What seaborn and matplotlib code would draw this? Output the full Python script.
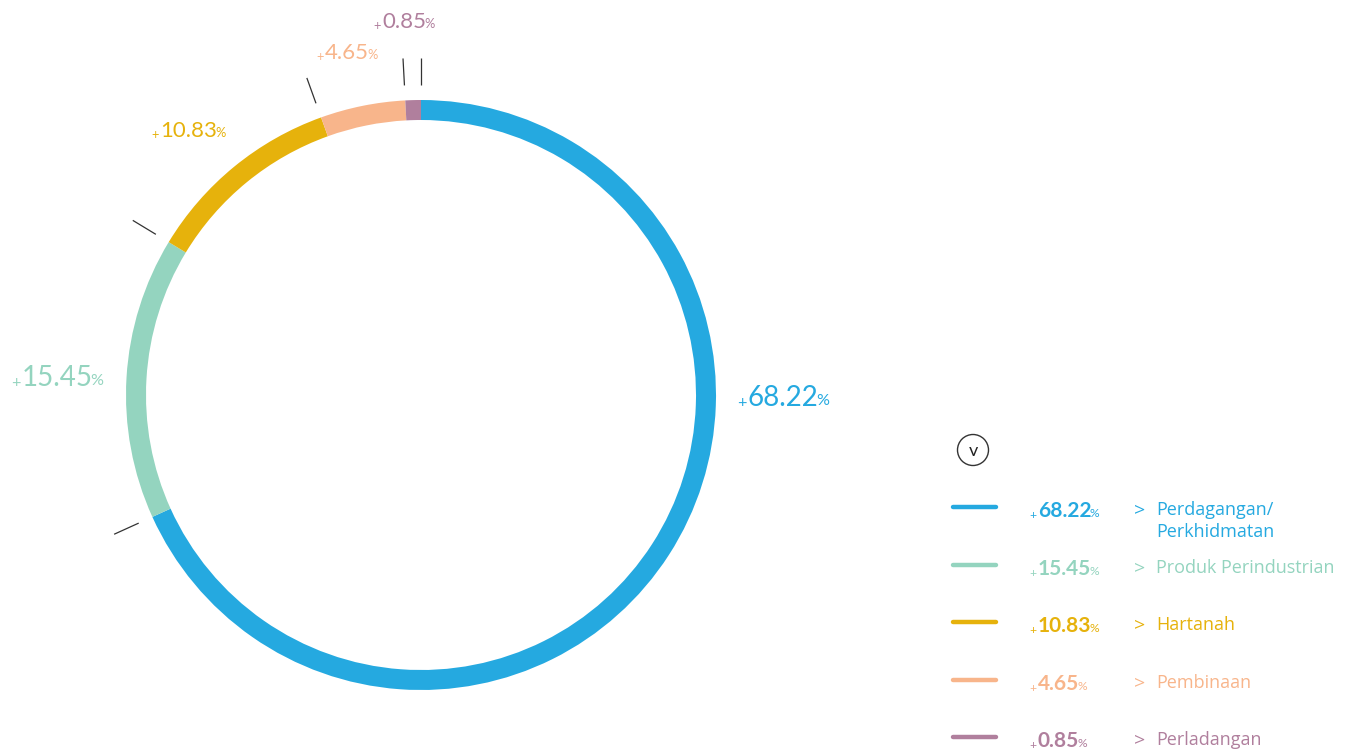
import numpy as np
import matplotlib
matplotlib.use("Agg")
import matplotlib.pyplot as plt
from matplotlib.patches import Circle
import seaborn as sns

sns.set_theme(style="white")
plt.rcParams['font.family'] = ['Lato', 'DejaVu Sans']

# data
sectors = ['Perdagangan/\nPerkhidmatan', 'Produk Perindustrian', 'Hartanah', 'Pembinaan', 'Perladangan']
shares = [68.22, 15.45, 10.83, 4.65, 0.85]
colors = ['#25A9E0', '#94D4BF', '#E6B20C', '#F8B58B', '#B07F9D']

W, H = 1346, 750
fig = plt.figure(figsize=(W / 100, H / 100), dpi=100)
ax = fig.add_axes([0, 0, 1, 1])

cx, cy = 421, H - 395
R = 295

ax.pie(shares, colors=colors, startangle=90, counterclock=False,
       radius=R, center=(cx, cy),
       wedgeprops=dict(width=20, edgecolor='none', linewidth=0))

ax.set_xlim(0, W)
ax.set_ylim(0, H)
ax.set_aspect('equal')
ax.axis('off')

# small tick lines at the segment boundaries
bounds = np.concatenate([[0], np.cumsum(shares)[:-1]]) / 100
for b in bounds:
    a = np.deg2rad(90 - 360 * b)
    ax.plot([cx + 310 * np.cos(a), cx + 337 * np.cos(a)],
            [cy + 310 * np.sin(a), cy + 337 * np.sin(a)],
            color='#333333', lw=0.9, solid_capstyle='butt')


def pct_label(x, y, val, color, size, weight='normal', ha='center'):
    t = ax.text(x, y, f'{val:.2f}', color=color, fontsize=size,
                fontweight=weight, ha=ha, va='baseline')
    ax.annotate('+', xy=(0, 0.02), xycoords=t, xytext=(-1, 0), textcoords='offset points',
                ha='right', va='bottom', color=color, fontsize=size * 0.58)
    ax.annotate('%', xy=(1, 0.1), xycoords=t, xytext=(-1.5, 0), textcoords='offset points',
                ha='left', va='bottom', color=color, fontsize=size * 0.58)
    return t


# labels around the ring (pixel positions of text centres)
label_pos = [(783, H - 406), (57, H - 386), (189, H - 137), (347, H - 59), (404, H - 28)]
label_size = [20, 20, 16, 16, 16]
for (lx, ly), v, c, s in zip(label_pos, shares, colors, label_size):
    pct_label(lx, ly, v, c, s)

# legend on the right
ax.add_patch(Circle((973, H - 450), 15.5, facecolor='white', edgecolor='#333333', lw=1))
ax.text(973, H - 451, 'v', ha='center', va='center', fontsize=13, color='#222222')

leg_y = [507, 565, 622, 680, 737]
for y, v, c, name in zip(leg_y, shares, colors, sectors):
    yy = H - y
    ax.plot([953, 996], [yy, yy], color=c, lw=3.2, solid_capstyle='round')
    pct_label(1038, yy - 10, v, c, 15, weight='bold', ha='left')
    ax.text(1134, yy - 3, '>', color=c, fontsize=14, ha='left', va='center',
            family=['Open Sans', 'DejaVu Sans'])
    for i, ln in enumerate(name.split('\n')):
        ax.text(1156, yy - 3 - 22 * i, ln, color=c, fontsize=13, ha='left', va='center',
                family=['Open Sans', 'DejaVu Sans'])

fig.savefig('out.png', dpi=100)
